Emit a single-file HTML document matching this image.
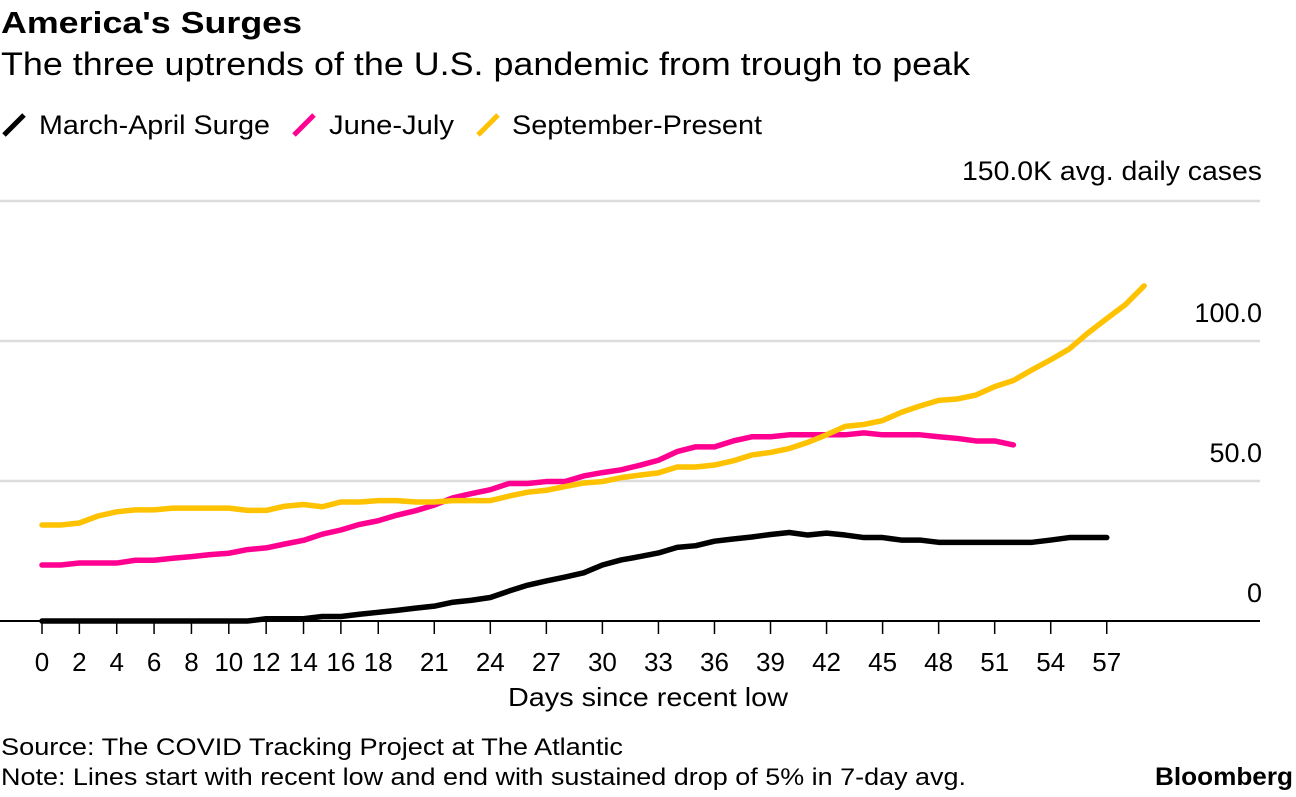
<!DOCTYPE html>
<html><head><meta charset="utf-8"><style>
body{margin:0;background:#fff;width:1296px;height:792px;overflow:hidden;font-family:"Liberation Sans",sans-serif}
svg text{font-family:"Liberation Sans",sans-serif}
</style></head><body>
<svg id="chart" width="1296" height="792" xmlns="http://www.w3.org/2000/svg">
<text x="1" y="33" font-size="31" font-weight="bold" textLength="301" lengthAdjust="spacingAndGlyphs">America's Surges</text>
<text x="1" y="75" font-size="32" textLength="969" lengthAdjust="spacingAndGlyphs">The three uptrends of the U.S. pandemic from trough to peak</text>
<g font-size="27">
<line x1="4" y1="135" x2="24" y2="115" stroke="#000" stroke-width="5"/>
<text x="39" y="134" textLength="231" lengthAdjust="spacingAndGlyphs">March-April Surge</text>
<line x1="294" y1="135" x2="314" y2="115" stroke="#ff0090" stroke-width="5"/>
<text x="329" y="134" textLength="125" lengthAdjust="spacingAndGlyphs">June-July</text>
<line x1="478" y1="135" x2="498" y2="115" stroke="#ffc200" stroke-width="5"/>
<text x="512" y="134" textLength="250" lengthAdjust="spacingAndGlyphs">September-Present</text>
</g>
<g id="grid"></g>
<g id="xaxis"></g>
<g id="lines"></g>
<text x="508" y="706" font-size="26" textLength="280" lengthAdjust="spacingAndGlyphs">Days since recent low</text>
<text x="1" y="755" font-size="24" textLength="622" lengthAdjust="spacingAndGlyphs">Source: The COVID Tracking Project at The Atlantic</text>
<text x="1" y="785" font-size="24" textLength="965" lengthAdjust="spacingAndGlyphs">Note: Lines start with recent low and end with sustained drop of 5% in 7-day avg.</text>
<text x="1155" y="785" font-size="25" font-weight="bold" textLength="138" lengthAdjust="spacingAndGlyphs">Bloomberg</text>
</svg>
<script>
const yTicks=[0,50,100,150];
const yTickLabels=["0","50.0","100.0","150.0K avg. daily cases"];
const xTicks=[0,2,4,6,8,10,12,14,16,18,21,24,27,30,33,36,39,42,45,48,51,54,57];
const marchApril=[0,0,0,0,0,0,0,0,0,0,0,0,0.8,0.8,0.8,1.6,1.6,2.4,3.1,3.8,4.6,5.3,6.7,7.4,8.4,10.7,12.8,14.3,15.7,17.2,20,21.8,23,24.3,26.3,26.9,28.5,29.3,30,30.9,31.6,30.7,31.4,30.7,29.8,29.8,28.9,28.9,28.1,28.1,28.1,28.1,28.1,28.1,28.9,29.8,29.8,29.8];
const juneJuly=[20,20,20.7,20.7,20.7,21.7,21.7,22.4,23,23.7,24.2,25.5,26.1,27.5,28.8,31,32.5,34.5,35.8,37.8,39.4,41.4,44,45.5,46.9,49.1,49.1,49.8,49.8,51.8,53,54,55.6,57.4,60.5,62.2,62.2,64.3,65.8,65.8,66.5,66.5,66.5,66.5,67.2,66.5,66.5,66.5,65.8,65.2,64.3,64.3,62.9];
const septPresent=[34.3,34.3,35,37.5,39,39.7,39.7,40.3,40.3,40.3,40.3,39.5,39.5,41,41.6,40.8,42.5,42.5,43,43,42.5,42.5,43,43,43,44.6,46,46.7,48,49.3,49.8,51.2,52.1,52.9,55,55,55.7,57.2,59.3,60.2,61.6,63.8,66.5,69.5,70.2,71.6,74.5,76.8,78.8,79.3,80.7,83.7,85.9,89.7,93.3,97.2,102.9,108,113,119.7];
const NS="http://www.w3.org/2000/svg";
const xs=d=>42+d*18.68;
const ys=v=>621-v*2.8;
const grid=document.getElementById('grid');
yTicks.forEach((t,i)=>{
 const l=document.createElementNS(NS,'line');
 
 
 l.setAttribute('x1',0);l.setAttribute('x2',1260);
 l.setAttribute('y1',ys(t));l.setAttribute('y2',ys(t));
 l.setAttribute('stroke',t===0?'#000':'#dcdcdc');l.setAttribute('stroke-width',t===0?2:2.5);
 grid.appendChild(l);
 const tx=document.createElementNS(NS,'text');
 
 
 tx.setAttribute('x',1262);tx.setAttribute('y',ys(t)-19);
 tx.setAttribute('text-anchor','end');tx.setAttribute('font-size','27');
 if(i===3){tx.setAttribute('textLength','300');tx.setAttribute('lengthAdjust','spacingAndGlyphs');tx.setAttribute('y',ys(t)-21);}
 tx.textContent=yTickLabels[i];
 grid.appendChild(tx);
});
const xa=document.getElementById('xaxis');
xTicks.forEach(d=>{
 const l=document.createElementNS(NS,'line');
 
 
 l.setAttribute('x1',xs(d));l.setAttribute('x2',xs(d));
 l.setAttribute('y1',621);l.setAttribute('y2',634);
 l.setAttribute('stroke','#000');l.setAttribute('stroke-width',1.5);
 xa.appendChild(l);
 const tx=document.createElementNS(NS,'text');
 
 
 tx.setAttribute('x',xs(d));tx.setAttribute('y',671);
 tx.setAttribute('text-anchor','middle');tx.setAttribute('font-size','26');
 tx.textContent=d;
 xa.appendChild(tx);
});
const lg=document.getElementById('lines');
[[marchApril,'#000','line-march-april'],[juneJuly,'#ff0090','line-june-july'],[septPresent,'#ffc200','line-september-present']].forEach(([arr,c,n])=>{
 const p=document.createElementNS(NS,'polyline');
 
 
 p.setAttribute('points',arr.map((v,i)=>xs(i)+','+ys(v)).join(' '));
 p.setAttribute('fill','none');p.setAttribute('stroke',c);p.setAttribute('stroke-width',5.5);
 p.setAttribute('stroke-linejoin','round');p.setAttribute('stroke-linecap','round');
 lg.appendChild(p);
});
</script>
</body></html>
